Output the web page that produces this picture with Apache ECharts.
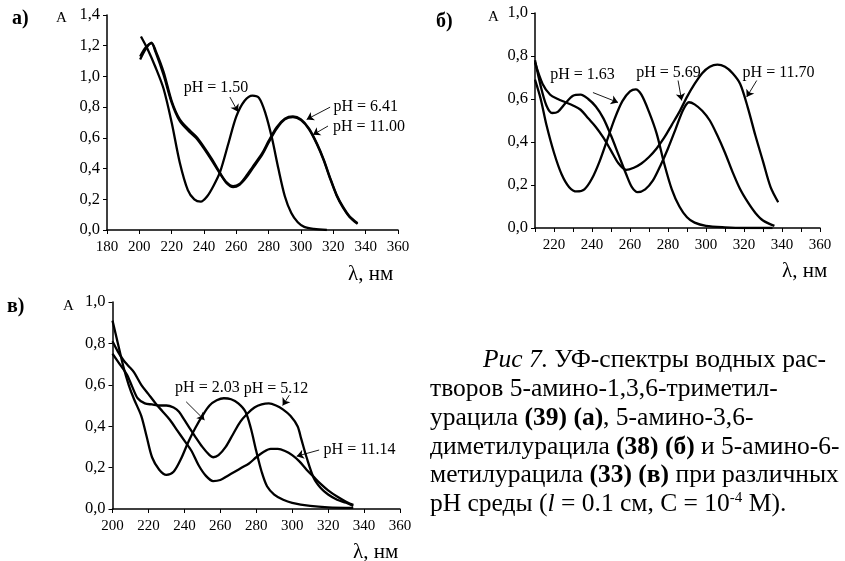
<!DOCTYPE html>
<html><head><meta charset="utf-8">
<script src="https://cdn.jsdelivr.net/npm/echarts@6/dist/echarts.min.js"></script>
<style>html,body{margin:0;padding:0;background:#fff}#c{width:845px;height:561px}</style>
</head><body><div id="c"></div>
<script>
// ---------- Panel а (compound 39) ----------
const a_xTicks = [180, 200, 220, 240, 260, 280, 300, 320, 340, 360];
const a_pH150 = [[201,1.26],[205,1.18],[210,1.06],[215,0.92],[220,0.70],[225,0.44],[230,0.26],[234,0.20],[238,0.185],[242,0.22],[246,0.29],[250,0.38],[255,0.56],[260,0.74],[265,0.84],[270,0.875],[274,0.86],[278,0.76],[282,0.60],[286,0.40],[290,0.22],[294,0.11],[298,0.05],[302,0.02],[308,0.007],[316,0.0]];
const a_pH641 = [[200.5,1.11],[204,1.18],[207.5,1.22],[210,1.17],[215,1.03],[220,0.84],[225,0.72],[230,0.66],[235,0.61],[240,0.54],[245,0.46],[250,0.37],[254,0.31],[258,0.285],[262,0.30],[266,0.35],[270,0.41],[276,0.50],[280,0.58],[285,0.67],[290,0.725],[295,0.74],[300,0.72],[305,0.66],[310,0.56],[314,0.46],[318,0.34],[322,0.23],[326,0.15],[330,0.09],[335,0.045]];
const a_pH1100 = [[200.5,1.13],[204,1.19],[207.5,1.215],[210,1.16],[215,1.01],[220,0.83],[225,0.71],[230,0.65],[235,0.60],[240,0.53],[245,0.45],[250,0.365],[254,0.305],[258,0.28],[262,0.295],[266,0.34],[270,0.40],[276,0.49],[280,0.57],[285,0.66],[290,0.72],[295,0.735],[300,0.715],[305,0.655],[310,0.555],[314,0.455],[318,0.335],[322,0.225],[326,0.145],[330,0.085],[335,0.04]];

// ---------- Panel б (compound 38) ----------
const b_xTicks = [220, 240, 260, 280, 300, 320, 340, 360];
const b_pH163 = [[210,0.69],[213,0.60],[216,0.48],[220,0.35],[224,0.25],[228,0.19],[232,0.17],[236,0.18],[240,0.23],[244,0.31],[248,0.41],[252,0.51],[256,0.59],[260,0.635],[263,0.645],[266,0.62],[270,0.54],[274,0.44],[278,0.30],[282,0.18],[286,0.10],[290,0.05],[294,0.025],[300,0.01],[310,0.003],[320,0.0],[335,0.0]];
const b_pH569 = [[210,0.78],[213,0.66],[216,0.57],[219,0.535],[222,0.54],[226,0.58],[230,0.615],[234,0.62],[238,0.60],[242,0.565],[246,0.51],[250,0.43],[254,0.34],[258,0.25],[261,0.19],[264,0.167],[268,0.18],[272,0.22],[276,0.29],[280,0.37],[284,0.46],[288,0.55],[291,0.585],[294,0.575],[298,0.545],[302,0.50],[306,0.43],[310,0.35],[314,0.26],[318,0.18],[322,0.12],[326,0.07],[330,0.035],[336,0.01]];
const b_pH1170 = [[210,0.77],[214,0.67],[218,0.62],[222,0.60],[226,0.585],[230,0.57],[234,0.55],[238,0.51],[242,0.47],[246,0.42],[250,0.36],[254,0.30],[258,0.27],[262,0.28],[266,0.30],[270,0.33],[274,0.37],[278,0.42],[282,0.48],[286,0.54],[290,0.61],[294,0.67],[298,0.72],[302,0.75],[306,0.76],[310,0.75],[314,0.72],[318,0.67],[322,0.56],[326,0.43],[330,0.31],[334,0.19],[338,0.12]];

// ---------- Panel в (compound 33) ----------
const c_xTicks = [200, 220, 240, 260, 280, 300, 320, 340, 360];
const c_pH203 = [[200,0.91],[203,0.80],[206,0.69],[209,0.60],[212,0.53],[216,0.45],[219,0.35],[222,0.25],[226,0.19],[230,0.165],[234,0.18],[238,0.24],[242,0.32],[246,0.39],[250,0.45],[254,0.50],[258,0.525],[262,0.535],[266,0.53],[270,0.51],[274,0.47],[277,0.39],[280,0.28],[283,0.18],[286,0.11],[290,0.07],[295,0.045],[300,0.03],[310,0.015],[320,0.008],[334,0.005]];
const c_pH512 = [[200,0.75],[204,0.70],[208,0.65],[211,0.59],[214,0.535],[218,0.51],[222,0.505],[226,0.50],[230,0.50],[234,0.49],[237,0.47],[240,0.43],[243,0.39],[246,0.35],[250,0.30],[254,0.26],[256,0.25],[259,0.26],[263,0.30],[267,0.36],[271,0.42],[275,0.46],[279,0.49],[283,0.505],[287,0.51],[291,0.50],[295,0.48],[299,0.45],[303,0.40],[305,0.34],[308,0.25],[312,0.15],[316,0.10],[320,0.07],[325,0.045],[330,0.03],[334,0.015]];
const c_pH1114 = [[200,0.81],[203,0.76],[206,0.72],[209,0.69],[212,0.66],[216,0.60],[220,0.555],[224,0.51],[228,0.47],[232,0.43],[236,0.38],[240,0.33],[244,0.28],[248,0.21],[252,0.16],[256,0.135],[260,0.14],[264,0.16],[268,0.18],[272,0.20],[276,0.22],[280,0.25],[284,0.275],[288,0.29],[292,0.29],[296,0.28],[300,0.26],[304,0.23],[308,0.19],[312,0.155],[316,0.12],[320,0.09],[325,0.06],[330,0.035],[334,0.02]];

// ---------- Annotations (label point, arrow start, arrow end) in data units ----------
const a_notes = [
  {text:'pH = 1.50',  at:[247.4,0.925], from:[256,0.866],   to:[261,0.77]},
  {text:'pH = 6.41',  at:[340,0.80],    from:[318,0.80],    to:[303.5,0.72]},
  {text:'pH = 11.00', at:[342,0.675],   from:[316.7,0.677], to:[307.4,0.62]}
];
const b_notes = [
  {text:'pH = 1.63',  at:[235,0.713],   from:[240.5,0.63],  to:[253.7,0.584]},
  {text:'pH = 5.69',  at:[280.3,0.723], from:[285.3,0.686], to:[287.2,0.593]},
  {text:'pH = 11.70', at:[338.2,0.723], from:[326.7,0.686], to:[321.4,0.609]}
];
const c_notes = [
  {text:'pH = 2.03',  at:[252.8,0.585], from:[241,0.518],   to:[251.2,0.43]},
  {text:'pH = 5.12',  at:[291,0.583],   from:[298.4,0.55],  to:[294.7,0.50]},
  {text:'pH = 11.14', at:[337.5,0.288], from:[315,0.285],   to:[302.5,0.255]}
];

// ---------- Caption ----------
const captionLines = [
  '{i|Рис 7.} УФ-спектры водных рас-',
  'творов 5-амино-1,3,6-триметил-',
  'урацила {b|(39)} {b|(а)}, 5-амино-3,6-',
  'диметилурацила {b|(38)} {b|(б)} и 5-амино-6-',
  'метилурацила {b|(33)} {b|(в)} при различных',
  'рН среды ({i|l} = 0.1 см, С = 10{s|-4} М).'
];

const FONT = "'Liberation Serif','DejaVu Serif',serif";
const CAP = 25.5;

function xAxisCfg(idx, min, max, interval, ticks) {
  return {
    type:'value', gridIndex: idx, min, max, interval,
    axisLine:{show:true, onZero:false, lineStyle:{color:'#000', width:1.5}},
    axisTick:{show:true, length:4, inside:false, lineStyle:{color:'#000', width:1}},
    splitLine:{show:false},
    axisLabel:{color:'#000', fontFamily:FONT, fontSize:15, margin:10,
      formatter: v => ticks.indexOf(Math.round(v)) >= 0 ? String(Math.round(v)) : ''}
  };
}
function yAxisCfg(idx, max) {
  return {
    type:'value', gridIndex: idx, min:0, max, interval:0.2,
    axisLine:{show:true, lineStyle:{color:'#000', width:1.5}},
    axisTick:{show:true, length:4, lineStyle:{color:'#000', width:1}},
    splitLine:{show:false},
    axisLabel:{color:'#000', fontFamily:FONT, fontSize:16.5, margin:7,
      formatter: v => v.toFixed(1).replace('.', ',')}
  };
}
function curve(idx, data, note) {
  const s = {
    type:'line', xAxisIndex: idx, yAxisIndex: idx, data,
    smooth:0.3, showSymbol:false, symbol:'none', silent:true,
    lineStyle:{color:'#000', width:2.3}
  };
  if (note) {
    s.markLine = {
      silent:true, symbol:['none','arrow'], symbolSize:7,
      lineStyle:{color:'#000', width:0.9, type:'solid'},
      label:{show:false},
      data:[[{coord:note.from},{coord:note.to}]]
    };
    s.markPoint = {
      silent:true, symbol:'rect', symbolSize:1,
      itemStyle:{color:'rgba(0,0,0,0)'},
      label:{show:true, position:'inside', color:'#000', fontFamily:FONT, fontSize:16,
        formatter: () => note.text},
      data:[{coord:note.at}]
    };
  }
  return s;
}
function txt(x, y, text, size, weight) {
  return {type:'text', x, y, silent:true,
    style:{text, fill:'#000', fontFamily:FONT, fontSize:size, fontWeight:weight || 'normal', verticalAlign:'middle'}};
}

const graphic = [
  txt(12, 19, 'а)', 20, 'bold'),
  txt(56, 18, 'A', 15),
  txt(436, 22, 'б)', 20, 'bold'),
  txt(488, 17, 'A', 15),
  txt(7, 307, 'в)', 20, 'bold'),
  txt(63, 306, 'A', 15),
  txt(348, 274, 'λ, нм', 21),
  txt(782, 271, 'λ, нм', 21),
  txt(353, 552, 'λ, нм', 21)
];
const capX = [483, 430, 430, 430, 430, 430];
const capY = [360, 389, 418, 447, 475, 504];
captionLines.forEach((line, i) => {
  graphic.push({type:'text', x:capX[i], y:capY[i], silent:true,
    style:{text:line, fill:'#000', fontFamily:FONT, fontSize:CAP, verticalAlign:'middle',
      rich:{
        i:{fontFamily:FONT, fontSize:CAP, fontStyle:'italic', fill:'#000'},
        b:{fontFamily:FONT, fontSize:CAP, fontWeight:'bold', fill:'#000'},
        s:{fontFamily:FONT, fontSize:15, fill:'#000', verticalAlign:'top', lineHeight:25}
      }}});
});

const option = {
  animation:false,
  backgroundColor:'#fff',
  grid:[
    {left:107, top:15, width:291, height:215},
    {left:535, top:13, width:285, height:215},
    {left:112.5, top:302, width:287.5, height:207}
  ],
  xAxis:[
    xAxisCfg(0, 180, 360, 20, a_xTicks),
    xAxisCfg(1, 210, 360, 10, b_xTicks),
    xAxisCfg(2, 200, 360, 20, c_xTicks)
  ],
  yAxis:[ yAxisCfg(0, 1.4), yAxisCfg(1, 1.0), yAxisCfg(2, 1.0) ],
  series:[
    curve(0, a_pH150, a_notes[0]),
    curve(0, a_pH641, a_notes[1]),
    curve(0, a_pH1100, a_notes[2]),
    curve(1, b_pH163, b_notes[0]),
    curve(1, b_pH569, b_notes[1]),
    curve(1, b_pH1170, b_notes[2]),
    curve(2, c_pH203, c_notes[0]),
    curve(2, c_pH512, c_notes[1]),
    curve(2, c_pH1114, c_notes[2])
  ],
  graphic
};
const chart = echarts.init(document.getElementById('c'), null, {renderer:'canvas'});
chart.setOption(option);
</script></body></html>
